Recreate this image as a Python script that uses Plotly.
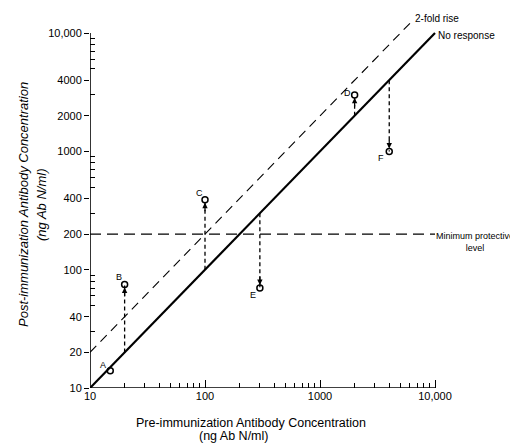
import numpy as np
import plotly.graph_objects as go

# ---- data ----
subjects = ["A", "B", "C", "D", "E", "F"]
pre_conc = [15, 20, 100, 2000, 300, 4000]      # pre-immunization (ng Ab N/ml)
post_conc = [14, 75, 390, 3000, 70, 1000]      # post-immunization (ng Ab N/ml)
protective_level = 200
fold_rise = 2
line_x = [10, 10000]
fold_line_x = [10, 6200]

x_tickvals = [10, 100, 1000, 10000]
x_ticktext = ["10", "100", "1000", "10,000"]
x_minor = [20, 30, 40, 50, 60, 70, 80, 90, 200, 300, 400, 500, 600, 700, 800, 900,
           2000, 3000, 4000, 5000, 6000, 7000, 8000, 9000]
y_tickvals = [10, 20, 40, 100, 200, 400, 1000, 2000, 4000, 10000]
y_ticktext = ["10", "20", "40", "100", "200", "400", "1000", "2000", "4000", "10,000"]
y_minor = [30, 50, 60, 70, 80, 90, 300, 500, 600, 700, 800, 900,
           3000, 5000, 6000, 7000, 8000, 9000]

# label offsets (pixels) and arrow direction per subject
label_shift = {"A": (-7, 6), "B": (-6, 7), "C": (-6, 7), "D": (-7, 2), "E": (-7, -7), "F": (-8, -7)}
arrow_dir = {"A": 0, "B": 1, "C": 1, "D": 1, "E": -1, "F": -1}

W, H = 518, 444
L, R, T, B = 82, 68, 4, 64
x_top = 1 + (W - L - R) / 115.0
y_top = 1 + (H - T - B) / 118.3

FONT = "Liberation Sans, Arial, sans-serif"

def px(xp):
    return (xp - L) / (W - L - R)

def py(yp):
    return (H - B - yp) / (H - T - B)

fig = go.Figure()

# axis lines
fig.add_trace(go.Scatter(x=[10, 10000], y=[10, 10], mode="lines",
                         line=dict(color="black", width=1.6), hoverinfo="skip"))
fig.add_trace(go.Scatter(x=[10, 10], y=[10, 10000], mode="lines",
                         line=dict(color="black", width=1.6), hoverinfo="skip"))

# no response line
fig.add_trace(go.Scatter(x=line_x, y=line_x, mode="lines",
                         line=dict(color="black", width=2.2), hoverinfo="skip"))
# 2-fold rise
fig.add_trace(go.Scatter(x=fold_line_x, y=[v * fold_rise for v in fold_line_x], mode="lines",
                         line=dict(color="black", width=1.1, dash="9px,6px"), hoverinfo="skip"))
# minimum protective level
fig.add_trace(go.Scatter(x=line_x, y=[protective_level, protective_level], mode="lines",
                         line=dict(color="black", width=1.2, dash="11px,6px"), hoverinfo="skip"))

# vertical change lines
for s, xv, yv in zip(subjects, pre_conc, post_conc):
    if arrow_dir[s] == 0:
        continue
    fig.add_trace(go.Scatter(x=[xv, xv], y=[xv, yv], mode="lines",
                             line=dict(color="black", width=1.3, dash="4px,3px"), hoverinfo="skip"))

# points
fig.add_trace(go.Scatter(x=pre_conc, y=post_conc, mode="markers",
                         marker=dict(symbol="circle-open", size=6, color="black",
                                     line=dict(width=1.5, color="black")),
                         cliponaxis=False, hoverinfo="skip"))

annotations = []
for s, xv, yv in zip(subjects, pre_conc, post_conc):
    dx, dy = label_shift[s]
    annotations.append(dict(x=np.log10(xv), y=np.log10(yv), xref="x", yref="y",
                            text=s, showarrow=False, xshift=dx, yshift=dy,
                            font=dict(family=FONT, size=9, color="black")))
    if arrow_dir[s] != 0:
        annotations.append(dict(x=np.log10(xv), y=np.log10(yv), xref="x", yref="y",
                                text="", showarrow=True, ax=0, ay=13 * arrow_dir[s],
                                arrowhead=2, arrowsize=0.9, arrowwidth=1.2,
                                arrowcolor="black", standoff=3))

annotations += [
    dict(x=px(405), y=py(11), xref="paper", yref="paper", xanchor="left", yanchor="middle",
         text="2-fold rise", showarrow=False, font=dict(family=FONT, size=10, color="black")),
    dict(x=px(428), y=py(28), xref="paper", yref="paper", xanchor="left", yanchor="middle",
         text="No response", showarrow=False, font=dict(family=FONT, size=10, color="black")),
    dict(x=px(426), y=py(234), xref="paper", yref="paper", xanchor="left", yanchor="middle",
         text="Minimum protective<br>level", align="center", showarrow=False,
         font=dict(family=FONT, size=9, color="black")),
    dict(x=px(243), y=py(415), xref="paper", yref="paper", xanchor="center", yanchor="middle",
         text="Pre-immunization Antibody Concentration", showarrow=False,
         font=dict(family=FONT, size=12.5, color="black")),
    dict(x=px(225), y=py(428), xref="paper", yref="paper", xanchor="center", yanchor="middle",
         text="(ng Ab N/ml)", showarrow=False,
         font=dict(family=FONT, size=12.5, color="black")),
    dict(x=px(15), y=py(197), xref="paper", yref="paper", xanchor="center", yanchor="middle",
         text="<i>Post-immunization Antibody Concentration</i>", textangle=-90, showarrow=False,
         font=dict(family=FONT, size=13, color="black")),
    dict(x=px(33), y=py(197), xref="paper", yref="paper", xanchor="center", yanchor="middle",
         text="<i>(ng Ab N/ml)</i>", textangle=-90, showarrow=False,
         font=dict(family=FONT, size=13, color="black")),
]

fig.update_layout(
    width=W, height=H,
    margin=dict(l=L, r=R, t=T, b=B, autoexpand=False),
    paper_bgcolor="white", plot_bgcolor="white",
    showlegend=False,
    annotations=annotations,
    xaxis=dict(type="log", range=[1, x_top], showgrid=False, zeroline=False, showline=False,
               tickmode="array", tickvals=x_tickvals, ticktext=x_ticktext,
               ticks="inside", ticklen=8, tickwidth=1.3, tickcolor="black",
               minor=dict(tickmode="array", tickvals=x_minor, ticks="inside", ticklen=5,
                          tickwidth=1.2, tickcolor="black", showgrid=False),
               tickfont=dict(family=FONT, size=11, color="black"), automargin=False),
    yaxis=dict(type="log", range=[1, y_top], showgrid=False, zeroline=False, showline=False,
               tickmode="array", tickvals=y_tickvals, ticktext=y_ticktext,
               ticks="outside", ticklen=5, tickwidth=1.3, tickcolor="black",
               minor=dict(tickmode="array", tickvals=y_minor, ticks="inside", ticklen=5,
                          tickwidth=1.2, tickcolor="black", showgrid=False),
               tickfont=dict(family=FONT, size=11, color="black"), automargin=False),
)

fig.write_html("out.html")
